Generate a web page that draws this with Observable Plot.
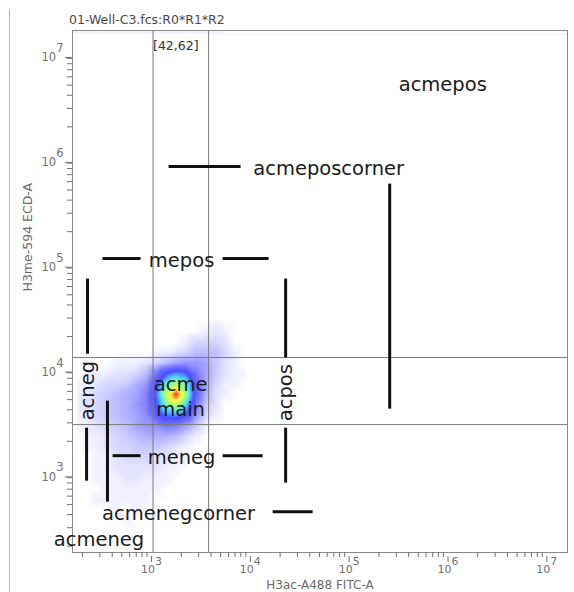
<!DOCTYPE html>
<html><head><meta charset="utf-8">
<script src="https://cdn.jsdelivr.net/npm/d3@7"></script>
<script src="https://cdn.jsdelivr.net/npm/@observablehq/plot@0.6"></script>
<style>
body{margin:0;background:#fff;}
#wrap{position:relative;width:574px;height:592px;overflow:hidden;}
#edge{position:absolute;left:9px;top:10px;width:0;height:582px;border-left:1px solid #b4b4b4;}
#title{position:absolute;left:69px;top:12px;font:12.5px "DejaVu Sans";color:#4a4a4a;white-space:nowrap;line-height:16px;}
#chart{position:absolute;left:0;top:0;}
</style></head><body>
<div id="wrap"><div id="edge"></div><div id="chart"></div><div id="title"></div></div>
<script>
// ---- text ----
const plotTitle = "01-Well-C3.fcs:R0*R1*R2";
const xTitle = "H3ac-A488 FITC-A";
const yTitle = "H3me-594 ECD-A";

// ---- scales / ticks ----
const xDomain = [158.5, 1.62e7];
const yDomain = [174, 1.66e7];
const majorTicks = [1e3, 1e4, 1e5, 1e6, 1e7];
const majorTickLabels = ["10^3", "10^4", "10^5", "10^6", "10^7"];
const minorMultipliers = [2, 3, 4, 5, 6, 7, 8, 9];
const minorDecades = [1e2, 1e3, 1e4, 1e5, 1e6, 1e7];

// ---- gates ----
const gateX = [1035, 3780];
const gateY = [12600, 2890];
const gateCountLabel = ["[42,62]"];
const gateCountY = [1.17e7];

// ---- region annotations ----
const annoLabels = ["acmepos", "acmeposcorner", "mepos", "acme\nmain", "meneg", "acmenegcorner", "acmeneg"];
const annoX = [8.85e5, 6.2e4, 2013, 1968, 2013, 1877, 294];
const annoY = [5.3e6, 8.36e5, 1.11e5, 5520, 1460, 427, 241];
const rotLabels = ["acneg", "acpos"];
const rotX = [225, 22750];
const rotY = [6090, 5830];
// horizontal segments: x1, x2, y
const hSegX1 = [1486, 319, 5240, 403, 5240, 16800];
const hSegX2 = [7960, 774, 15300, 774, 13300, 42700];
const hSegY  = [8.36e5, 1.11e5, 1.11e5, 1460, 1460, 427];
// vertical segments: x, y1, y2
const vSegX  = [2.57e5, 225, 220, 358, 22750, 22750];
const vSegY1 = [5.75e5, 71400, 2700, 4890, 71400, 2700];
const vSegY2 = [4100, 13700, 843, 532, 12600, 808];

// ---- event density (counts per 0.1-decade cell) ----
const gridLogX = [2.25,2.35,2.45,2.55,2.65,2.75,2.85,2.95,3.05,3.15,3.25,3.35,3.45,3.55,3.65,3.75,3.85,3.95];
const gridLogY = [4.45,4.35,4.25,4.15,4.05,3.95,3.85,3.75,3.65,3.55,3.45,3.35,3.25,3.15,3.05,2.95,2.85,2.75,2.65,2.55,2.45,2.35,2.25];
const gridCounts = [
  [0,0,0,0,0,0,0,0,0,0,0,0,0,0,1,0,0,0],
  [0,0,0,0,0,0,0,0,0,0,0,0,0,1,2,1,0,0],
  [0,0,0,0,0,0,0,0,0,0,0,1,3,3,3,2,0,0],
  [0,0,0,0,0,0,0,0,1,1,2,3,5,5,5,3,1,0],
  [0,0,0,0,1,1,1,2,3,5,7,8,8,7,4,2,1,0],
  [0,1,1,1,2,2,3,5,11,17,20,18,11,7,4,2,1,1],
  [1,1,2,3,3,4,6,8,16,25,30,26,14,7,3,1,1,0],
  [1,2,3,4,5,6,7,10,19,31,40,29,14,6,2,1,0,0],
  [1,2,3,4,5,6,8,10,17,27,31,23,11,4,2,0,0,0],
  [1,2,3,4,5,6,7,9,14,19,20,16,8,3,1,0,0,0],
  [1,1,2,3,4,5,7,8,9,11,10,7,4,1,0,0,0,0],
  [0,1,1,2,3,4,5,6,6,6,5,3,1,0,0,0,0,0],
  [0,1,1,2,3,3,4,4,4,3,2,1,0,0,0,0,0,0],
  [0,0,1,1,2,3,3,3,2,2,1,1,0,0,0,0,0,0],
  [0,0,1,1,2,2,2,2,2,1,1,0,0,0,0,0,0,0],
  [0,0,1,1,1,2,2,1,1,1,0,0,0,0,0,0,0,0],
  [0,0,0,1,1,1,1,1,1,0,0,0,0,0,0,0,0,0],
  [0,0,1,1,1,1,1,1,0,0,0,0,0,0,0,0,0,0],
  [0,0,0,0,1,0,1,0,0,0,0,0,0,0,0,0,0,0],
  [0,0,0,0,0,1,0,0,0,0,0,0,0,0,0,0,0,0],
  [0,0,0,0,0,0,0,0,0,0,0,0,0,0,0,0,0,0],
  [0,0,0,0,0,0,0,0,0,0,0,0,0,0,0,0,0,0],
  [0,0,0,0,0,0,0,0,0,0,0,0,0,0,0,0,0,0]
];
const densityStops = [0, 1, 3, 6, 11, 17, 23, 28, 34, 40];
const densityColors = ["#ffffff", "#f0f0ff", "#d6d6ff", "#b0b0ff", "#7474ff", "#4a4aff", "#50d8ff", "#90ff90", "#ffff40", "#ff2a2a"];

// ---- build tables ----
const cells = [];
gridLogY.forEach((ly, i) => gridLogX.forEach((lx, j) => cells.push({x: 10 ** lx, y: 10 ** ly, v: gridCounts[i][j]})));
const minorX = minorDecades.flatMap(d => minorMultipliers.map(m => m * d)).filter(v => v >= xDomain[0] && v <= xDomain[1]);
const minorY = minorDecades.flatMap(d => minorMultipliers.map(m => m * d)).filter(v => v >= yDomain[0] && v <= yDomain[1]);
const labelFor = d => majorTickLabels[majorTicks.indexOf(d)];
const annos = annoLabels.map((t, i) => ({t, x: annoX[i], y: annoY[i]}));
const rots = rotLabels.map((t, i) => ({t, x: rotX[i], y: rotY[i]}));
const hSegs = hSegY.map((y, i) => ({x1: hSegX1[i], x2: hSegX2[i], y}));
const vSegs = vSegX.map((x, i) => ({x, y1: vSegY1[i], y2: vSegY2[i]}));
const counts = gateCountLabel.map((t, i) => ({t, x: gateX[0], y: gateCountY[i]}));

document.getElementById("title").textContent = plotTitle;

const axisColor = "#707070";
const plot = Plot.plot({
  width: 574, height: 592,
  marginLeft: 72, marginRight: 7, marginTop: 30, marginBottom: 40,
  style: {fontFamily: "DejaVu Sans", background: "transparent", overflow: "visible"},
  x: {type: "log", domain: xDomain, axis: null},
  y: {type: "log", domain: yDomain, axis: null},
  color: {type: "linear", domain: densityStops, range: densityColors, clamp: true},
  marks: [
    Plot.raster(cells, {x: "x", y: "y", fill: "v", interpolate: "barycentric", pixelSize: 1}),
    Plot.ruleX(gateX, {stroke: "#7a7a7a", strokeWidth: 1}),
    Plot.ruleY(gateY, {stroke: "#7a7a7a", strokeWidth: 1}),
    Plot.frame({stroke: "#8a8a8a"}),
    Plot.axisX(minorX, {anchor: "bottom", tickSize: 5, tickFormat: () => "", color: axisColor, label: null}),
    Plot.axisX(majorTicks, {anchor: "bottom", tickSize: 6, tickPadding: 3, dy: 4, tickFormat: labelFor, color: axisColor, fontSize: 11, label: null}),
    Plot.axisY(minorY, {anchor: "left", tickSize: 5, tickFormat: () => "", color: axisColor, label: null}),
    Plot.axisY(majorTicks, {anchor: "left", tickSize: 7, tickPadding: 2, dy: 4, tickFormat: labelFor, color: axisColor, fontSize: 11.5, label: null}),
    Plot.text([xTitle], {frameAnchor: "bottom", text: d => d, dy: 36, fontSize: 12, fill: "#6a6a6a"}),
    Plot.text([yTitle], {frameAnchor: "left", text: d => d, dx: -45, rotate: -90, fontSize: 12.5, fill: "#6a6a6a"}),
    Plot.text(counts, {x: "x", y: "y", text: "t", textAnchor: "start", fontSize: 12.5, fill: "#333"}),
    Plot.link(hSegs, {x1: "x1", x2: "x2", y1: "y", y2: "y", stroke: "#111", strokeWidth: 3}),
    Plot.link(vSegs, {x1: "x", x2: "x", y1: "y1", y2: "y2", stroke: "#111", strokeWidth: 3}),
    Plot.text(annos, {x: "x", y: "y", text: "t", fontSize: 19.5, fill: "#1a1a1a", lineHeight: 1.3}),
    Plot.text(rots, {x: "x", y: "y", text: "t", rotate: -90, fontSize: 19.5, fill: "#1a1a1a"})
  ]
});
plot.querySelectorAll("text").forEach(t => {
  const m = /^10\^(\d)$/.exec(t.textContent);
  if (m) {
    t.textContent = "10";
    const s = document.createElementNS("http://www.w3.org/2000/svg", "tspan");
    s.setAttribute("dy", "-0.8em");
    s.textContent = m[1];
    t.appendChild(s);
  }
});
document.getElementById("chart").appendChild(plot);
</script>
</body></html>
